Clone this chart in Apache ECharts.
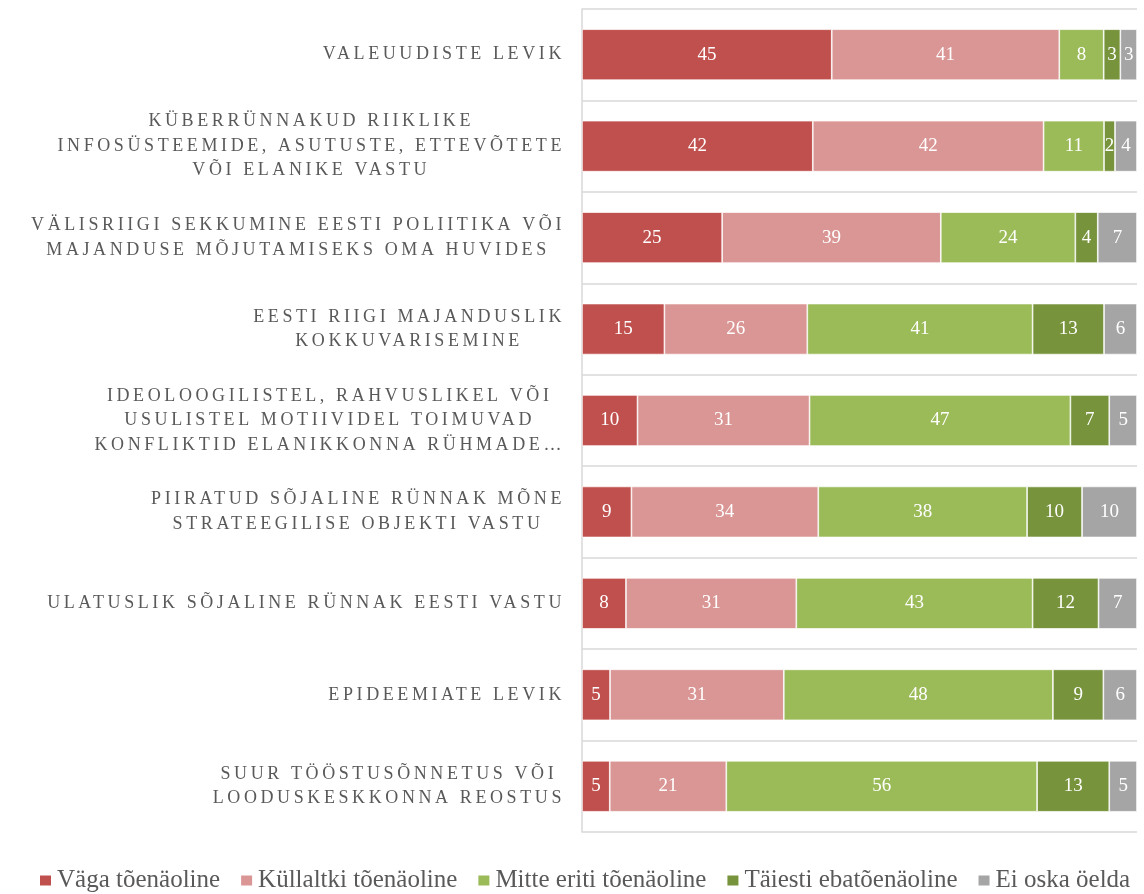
<!DOCTYPE html>
<html>
<head>
<meta charset="utf-8">
<script src="https://cdn.jsdelivr.net/npm/echarts@6/dist/echarts.min.js"></script>
<style>
  html, body { margin: 0; padding: 0; background: #fff; }
  #chart { width: 1144px; height: 894px; }
</style>
</head>
<body>
<div id="chart"></div>
<script>
// kategooriad (nii nagu joonisel näha)
const categories = [
  'VALEUUDISTE LEVIK',
  'KÜBERRÜNNAKUD RIIKLIKE\nINFOSÜSTEEMIDE, ASUTUSTE, ETTEVÕTETE\nVÕI ELANIKE VASTU',
  'VÄLISRIIGI SEKKUMINE EESTI POLIITIKA VÕI\nMAJANDUSE MÕJUTAMISEKS OMA HUVIDES',
  'EESTI RIIGI MAJANDUSLIK\nKOKKUVARISEMINE',
  'IDEOLOOGILISTEL, RAHVUSLIKEL VÕI\nUSULISTEL MOTIIVIDEL TOIMUVAD\nKONFLIKTID ELANIKKONNA RÜHMADE…',
  'PIIRATUD SÕJALINE RÜNNAK MÕNE\nSTRATEEGILISE OBJEKTI VASTU',
  'ULATUSLIK SÕJALINE RÜNNAK EESTI VASTU',
  'EPIDEEMIATE LEVIK',
  'SUUR TÖÖSTUSÕNNETUS VÕI\nLOODUSKESKKONNA REOSTUS'
];
const seriesNames = ['Väga tõenäoline', 'Küllaltki tõenäoline', 'Mitte eriti tõenäoline', 'Täiesti ebatõenäoline', 'Ei oska öelda'];
const vaga       = [45, 42, 25, 15, 10,  9,  8,  5,  5];
const kyllaltki  = [41, 42, 39, 26, 31, 34, 31, 31, 21];
const mitteEriti = [ 8, 11, 24, 41, 47, 38, 43, 48, 56];
const taiesti    = [ 3,  2,  4, 13,  7, 10, 12,  9, 13];
const eiOska     = [ 3,  4,  7,  6,  5, 10,  7,  6,  5];
const colors = ['#c0504d', '#d99694', '#9bbb59', '#77933c', '#a5a5a5'];

const allValues = [vaga, kyllaltki, mitteEriti, taiesti, eiOska];

// 100% tulp: iga rea osakaal rea summast
const rowSums = categories.map(function (c, i) {
  return allValues.reduce(function (s, arr) { return s + arr[i]; }, 0);
});

// hõredam tähevahe telje siltidele (canvas letterSpacing)
const SPACED = 'Times New Roman';
const proto = CanvasRenderingContext2D.prototype;
['fillText', 'measureText'].forEach(function (fn) {
  const orig = proto[fn];
  proto[fn] = function () {
    this.letterSpacing = this.font.indexOf(SPACED) >= 0 ? '3.6px' : '0px';
    return orig.apply(this, arguments);
  };
});

const myChart = echarts.init(document.getElementById('chart'));

const series = allValues.map(function (arr, k) {
  return {
    name: seriesNames[k],
    type: 'bar',
    stack: 'total',
    barWidth: 51,
    itemStyle: { color: colors[k], borderColor: '#ffffff', borderWidth: 0.7 },
    label: {
      show: true,
      position: 'inside',
      color: '#ffffff',
      fontFamily: 'Liberation Serif',
      fontSize: 19,
      textBorderWidth: 0,
      formatter: function (p) { return arr[p.dataIndex]; }
    },
    data: arr.map(function (v, i) { return v / rowSums[i] * 100; })
  };
});

const option = {
  animation: false,
  color: colors,
  grid: { left: 582, right: 7, top: 9, bottom: 62, containLabel: false, outerBoundsMode: 'none' },
  legend: {
    data: seriesNames,
    top: 868,
    left: 38,
    width: 1200,
    padding: 0,
    icon: 'rect',
    itemWidth: 13,
    itemHeight: 12,
    itemGap: 19,
    textStyle: { fontFamily: 'Liberation Serif', fontSize: 25, color: '#595959' }
  },
  xAxis: {
    type: 'value',
    min: 0,
    max: 100,
    show: false
  },
  yAxis: {
    type: 'category',
    inverse: true,
    data: categories,
    axisLine: { show: true, lineStyle: { color: '#d9d9d9', width: 1.5 } },
    axisTick: { show: false },
    splitLine: { show: true, interval: 0, lineStyle: { color: '#d9d9d9', width: 1.5 } },
    axisLabel: {
      interval: 0,
      margin: 17,
      align: 'right',
      formatter: function (v) {
        return v.split('\n').map(function (l) { return '{c|' + l + '}'; }).join('\n');
      },
      rich: {
        c: {
          align: 'center',
          fontFamily: 'Liberation Serif, Times New Roman',
          fontSize: 18,
          lineHeight: 24.5,
          color: '#595959'
        }
      }
    }
  },
  series: series
};

myChart.setOption(option);
window.addEventListener('resize', function () { myChart.resize(); });
</script>
</body>
</html>
